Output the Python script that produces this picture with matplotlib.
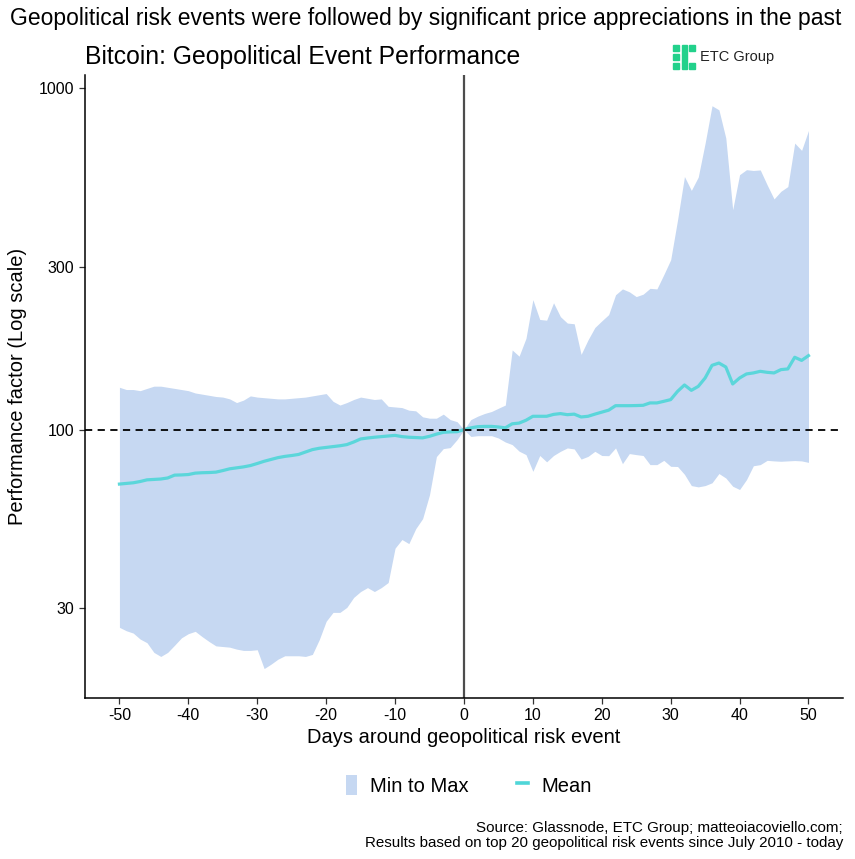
import matplotlib
matplotlib.use("Agg")
import matplotlib.pyplot as plt
from matplotlib.patches import Patch, Rectangle
from matplotlib.lines import Line2D

plt.rcParams['font.family'] = ['Liberation Sans', 'DejaVu Sans']

days = list(range(-50, 51))

max_perf = [
    133, 131, 131, 130, 132, 134, 134, 133, 132, 131,
    130, 128, 127, 126, 125, 124.5, 123, 120, 122, 125.5,
    124.5, 124, 123.5, 123, 123, 123.5, 124, 124.5, 125.5, 126.5,
    127.5, 121, 118, 120, 122.5, 124.5, 123.5, 122.5, 123, 117,
    116.5, 116, 114, 113.5, 109, 108, 108, 111, 107, 105.5,
    100,
    107, 109.5, 111.5, 113, 115.5, 118, 171, 164, 185, 240,
    210, 209, 235, 214, 205, 204, 166, 183, 199, 208,
    217, 248, 258, 253, 245, 249, 259, 258, 284, 314,
    411, 550, 501, 548, 689, 886, 862, 713, 440, 557,
    576, 573, 575, 520, 473, 498, 514, 689, 656, 750,
]

min_perf = [
    26.4, 25.8, 25.4, 24.4, 23.8, 22.3, 21.7, 22.3, 23.4, 24.6,
    25.3, 25.7, 24.8, 24.0, 23.3, 23.2, 23.1, 22.8, 22.6, 22.6,
    22.7, 20.0, 20.6, 21.3, 21.8, 21.8, 21.8, 21.7, 22.0, 24.3,
    27.5, 29.2, 29.2, 30.2, 32.3, 33.6, 34.5, 33.6, 34.5, 35.7,
    45.0, 47.7, 46.4, 51.3, 54.9, 64.5, 83.4, 88.0, 88.6, 93.5,
    100,
    95.5, 96, 96, 96, 94.5, 92, 90.4, 86.5, 84.5, 75.5,
    84, 80.5, 84, 86.4, 88.4, 87.8, 82, 83.5, 86.4, 84,
    83.9, 88.4, 79.5, 85.1, 84.5, 84, 79, 79, 81.3, 78.1,
    78, 74, 68.6, 68, 68.6, 69.9, 74.4, 72.2, 68.3, 66.8,
    71.4, 78.4, 79, 81.3, 81, 80.8, 81, 81.2, 81, 80.2,
]

mean_perf = [
    69.3, 69.6, 69.9, 70.5, 71.3, 71.5, 71.7, 72.2, 73.6, 73.7,
    73.9, 74.6, 74.8, 74.9, 75.1, 75.9, 76.8, 77.3, 77.8, 78.5,
    79.6, 80.8, 81.8, 82.8, 83.5, 84.0, 84.6, 86.0, 87.4, 88.2,
    88.7, 89.2, 89.7, 90.4, 92.0, 93.9, 94.5, 95.0, 95.4, 95.8,
    96.2, 95.4, 95.0, 94.8, 94.6, 95.6, 97.0, 98.2, 98.5, 98.6,
    100,
    101.2, 102, 102.2, 102.2, 101.8, 101.2, 104, 104.5, 106.5, 109.4,
    109.4, 109.4, 110.8, 111.4, 110.6, 111, 108.9, 109.4, 111, 112.5,
    114, 117.5, 117.5, 117.5, 117.6, 117.8, 119.7, 119.7, 121, 122.4,
    129.4, 135.1, 130.3, 133.8, 141.6, 154.2, 156.6, 152.5, 136, 141.6,
    145.5, 146.5, 148.1, 147.1, 146.5, 149.8, 150.5, 162.8, 159.4, 164.6,
]

x_ticks = list(range(-50, 51, 10))
y_ticks = [30, 100, 300, 1000]

band_color = '#c6d8f2'
mean_color = '#4fd6d8'

fig = plt.figure(figsize=(8.55, 8.59), dpi=100)
ax = fig.add_axes([0.0994, 0.1874, 0.8865, 0.7253])

ax.fill_between(days, min_perf, max_perf, color=band_color, linewidth=0)
ax.plot(days, mean_perf, color=mean_color, alpha=0.9, lw=2.3)
ax.axhline(100, color='black', lw=1.3, dashes=(4, 3))
ax.axvline(0, color='#4d4d4d', lw=1.6)

ax.set_yscale('log')
ax.set_xlim(-55, 55)
ax.set_ylim(16.4, 1090)
ax.set_xticks(x_ticks)
ax.set_xticklabels([str(t) for t in x_ticks])
ax.set_yticks(y_ticks)
ax.set_yticklabels([str(t) for t in y_ticks])
ax.minorticks_off()
ax.tick_params(labelsize=11.5, length=4, width=0.9, colors='#333333', labelcolor='black')

for side in ['top', 'right']:
    ax.spines[side].set_visible(False)
for side in ['left', 'bottom']:
    ax.spines[side].set_linewidth(1.1)

ax.set_xlabel("Days around geopolitical risk event", fontsize=14.5, labelpad=3)
ax.set_ylabel("Performance factor (Log scale)", fontsize=14.5, labelpad=9)

fig.text(0.012, 0.978, "Geopolitical risk events were followed by significant price appreciations in the past",
         fontsize=16.5, ha='left', va='center')
fig.text(0.0994, 0.934, "Bitcoin: Geopolitical Event Performance", fontsize=17.8, ha='left', va='center')

# logo
green = '#22d18b'
W, H = 855, 859
def px_rect(x0, y0, w, h):
    fig.patches.append(Rectangle((x0 / W, 1 - (y0 + h) / H), w / W, h / H,
                                 transform=fig.transFigure, color=green))
for yy in (45, 54, 63):
    px_rect(673, yy, 6, 6)
px_rect(682, 45, 5, 24)
for yy in (45, 63):
    px_rect(689, yy, 6, 6)
fig.text(700 / W, 1 - 57 / H, "ETC Group", fontsize=10.5, color='#222222', ha='left', va='center')

handles = [Patch(facecolor=band_color, edgecolor='none', label='Min to Max'),
           Line2D([], [], color=mean_color, lw=2.6, label='Mean')]
fig.legend(handles=handles, loc='center', bbox_to_anchor=(0.548, 0.086), ncol=2, frameon=False,
           fontsize=14.5, handlelength=0.55, handleheight=1.2, columnspacing=2.4, handletextpad=0.65)

fig.text(0.986, 0.0274, "Source: Glassnode, ETC Group; matteoiacoviello.com;\n"
         "Results based on top 20 geopolitical risk events since July 2010 - today",
         fontsize=10.9, ha='right', va='center', linespacing=1.12)

fig.savefig("out.png", dpi=100)
